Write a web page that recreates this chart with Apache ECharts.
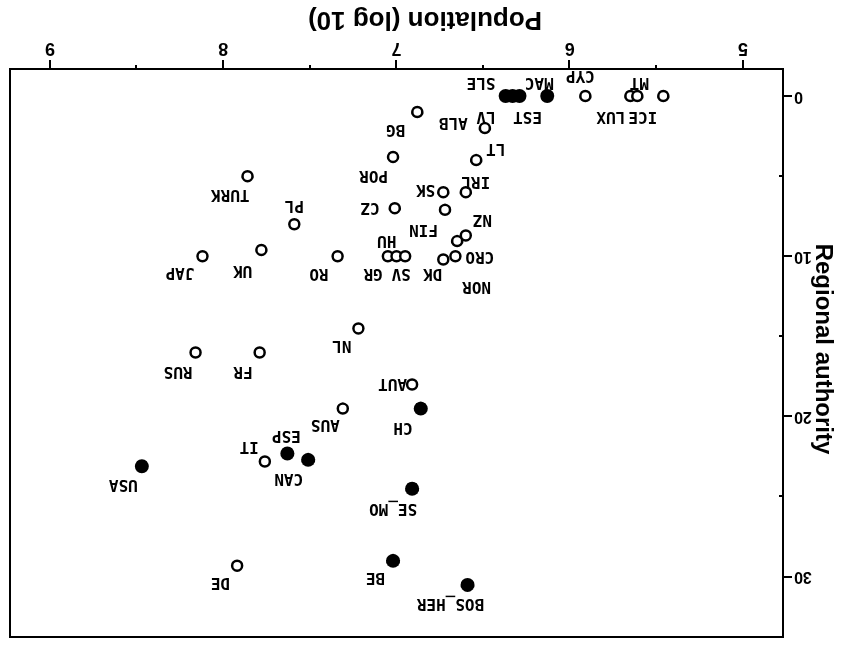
<!DOCTYPE html>
<html>
<head>
<meta charset="utf-8">
<script src="https://cdn.jsdelivr.net/npm/echarts@6/dist/echarts.min.js"></script>
<style>
html,body{margin:0;padding:0;background:#fff;}
#chart{width:851px;height:646px;transform:rotate(180deg);transform-origin:50% 50%;}
</style>
</head>
<body>
<div id="chart"></div>
<script>
// ---- data ----
const countries = ['ICE','LUX','MT','CYP','MAC','EST','SLE','LV','BG','ALB','LT','POR','IRL','SK','TURK','PL','CZ','FIN','NZ','NOR','CRO','DK','GR','HU','SV','RO','UK','JAP','NL','RUS','FR','AUT','CH','AUS','ESP','CAN','IT','USA','SE_MO','BE','BOS_HER','DE'];
const population = [5.46,5.65,5.61,5.91,6.13,6.29,6.33,6.37,6.88,6.49,6.54,7.02,6.60,6.73,7.86,7.59,7.01,6.72,6.60,6.65,6.66,6.73,7.05,7.00,6.95,7.34,7.78,8.12,7.22,8.16,7.79,6.91,6.86,7.31,7.63,7.51,7.76,8.47,6.91,7.02,6.59,7.92];
const regionalAuthority = [0,0,0,0,0,0,0,0,1,2,4,3.8,6,6,5,8,7,7.1,8.7,9.05,10,10.2,10,10,10,10,9.6,10,14.5,16,16,18,19.5,19.5,22.3,22.7,22.8,23.1,24.5,29,30.5,29.3];
const federal = ['MAC','EST','SLE','LV','CH','ESP','CAN','USA','SE_MO','BE','BOS_HER'];
const xTicks = [5,6,7,8,9];
const xMinorTicks = [5.5,6.5,7.5,8.5];
const yTicks = [0,10,20,30];
const yMinorTicks = [5,15,25];

// ---- label placement (layout only) ----
const labelPlace = {
  ICE:[6,-20,'left'], LUX:[5,-20,'left'], MT:[-2,14,'center'], CYP:[5,21,'center'],
  MAC:[8,14,'center'], EST:[-8,-20,'center'], SLE:[17,14,'left'], LV:[10,-20,'left'],
  BG:[12,-17,'left'], ALB:[17,6,'left'], LT:[-10,12,'right'], POR:[5,-18,'left'],
  IRL:[-10,11,'center'], SK:[8,3,'left'], TURK:[-2,-18,'left'], PL:[0,19,'center'],
  CZ:[15,1,'left'], FIN:[7,-19,'left'], NZ:[-7,16,'right'], NOR:[-5,-45,'right'],
  CRO:[-10,0,'right'], DK:[1,-14,'left'], GR:[5,-17,'left'], HU:[0,16,'left'],
  SV:[4,-17,'center'], RO:[9,-17,'left'], UK:[9,-20,'left'], JAP:[8,-16,'left'],
  NL:[7,-17,'left'], RUS:[3,-19,'left'], FR:[7,-19,'left'], AUT:[5,1,'left'],
  CH:[8,-19,'left'], AUS:[3,-16,'left'], ESP:[1,18,'center'], CAN:[5,-18,'left'],
  IT:[6,15,'left'], USA:[4,-18,'left'], SE_MO:[19,-19,'center'], BE:[8,-16,'left'],
  BOS_HER:[17,-18,'center'], DE:[7,-16,'left']
};

const labelFont = {fontFamily:'DejaVu Sans Mono', fontWeight:'bold', fontSize:16, color:'#000'};
const data = countries.map((c,i)=>{
  const isFed = federal.includes(c);
  const p = labelPlace[c];
  return {
    name:c,
    value:[population[i], regionalAuthority[i]],
    symbolSize: isFed ? 14 : 10,
    itemStyle: isFed ? {color:'#000', borderColor:'#000', borderWidth:0, opacity:1}
                     : {color:'#fff', borderColor:'#000', borderWidth:2.5, opacity:1},
    label:Object.assign({show:true, formatter:c, position:'inside', align:p[2], verticalAlign:'middle', offset:[p[0],p[1]]}, labelFont)
  };
});

const xMin = 4.769, xMax = 9.231, yMin = -1.684, yMax = 33.75;
const chart = echarts.init(document.getElementById('chart'), null, {renderer:'canvas'});
chart.setOption({
  animation:false,
  backgroundColor:'#fff',
  grid:{left:68, right:10, top:9, bottom:69, show:true, borderColor:'#000', borderWidth:2, backgroundColor:'transparent'},
  xAxis:[
    {type:'value', position:'bottom', min:xMin, max:xMax,
     axisLine:{show:true, onZero:false, lineStyle:{color:'#000', width:2}},
     axisTick:{show:true, customValues:xTicks, length:9, lineStyle:{color:'#000', width:2}},
     axisLabel:{show:true, customValues:xTicks, margin:12, color:'#000', fontFamily:'Liberation Sans', fontWeight:'bold', fontSize:18},
     splitLine:{show:false}},
    {type:'value', position:'bottom', min:xMin, max:xMax,
     axisLine:{show:false, onZero:false},
     axisTick:{show:true, customValues:xMinorTicks, length:4, lineStyle:{color:'#000', width:2}},
     axisLabel:{show:false}, splitLine:{show:false}}
  ],
  yAxis:[
    {type:'value', position:'left', min:yMin, max:yMax,
     axisLine:{show:true, onZero:false, lineStyle:{color:'#000', width:2}},
     axisTick:{show:true, customValues:yTicks, length:9, lineStyle:{color:'#000', width:2}},
     axisLabel:{show:true, customValues:yTicks, margin:11, color:'#000', fontFamily:'Liberation Sans', fontWeight:'bold', fontSize:16},
     splitLine:{show:false}},
    {type:'value', position:'left', min:yMin, max:yMax,
     axisLine:{show:false, onZero:false},
     axisTick:{show:true, inside:true, customValues:yMinorTicks, length:4, lineStyle:{color:'#000', width:2}},
     axisLabel:{show:false}, splitLine:{show:false}}
  ],
  graphic:[
    {type:'text', x:426, y:627, style:{text:'Population (log 10)', align:'center', verticalAlign:'middle', fill:'#000', font:'bold 26px "Liberation Sans"'}},
    {type:'text', x:28, y:297, rotation:Math.PI/2, style:{text:'Regional authority', align:'center', verticalAlign:'middle', fill:'#000', font:'bold 24px "Liberation Sans"'}}
  ],
  series:[{
    type:'scatter', xAxisIndex:0, yAxisIndex:0, symbol:'circle',
    itemStyle:{opacity:1},
    data:data, emphasis:{disabled:true}, z:3
  }]
});
</script>
</body>
</html>
